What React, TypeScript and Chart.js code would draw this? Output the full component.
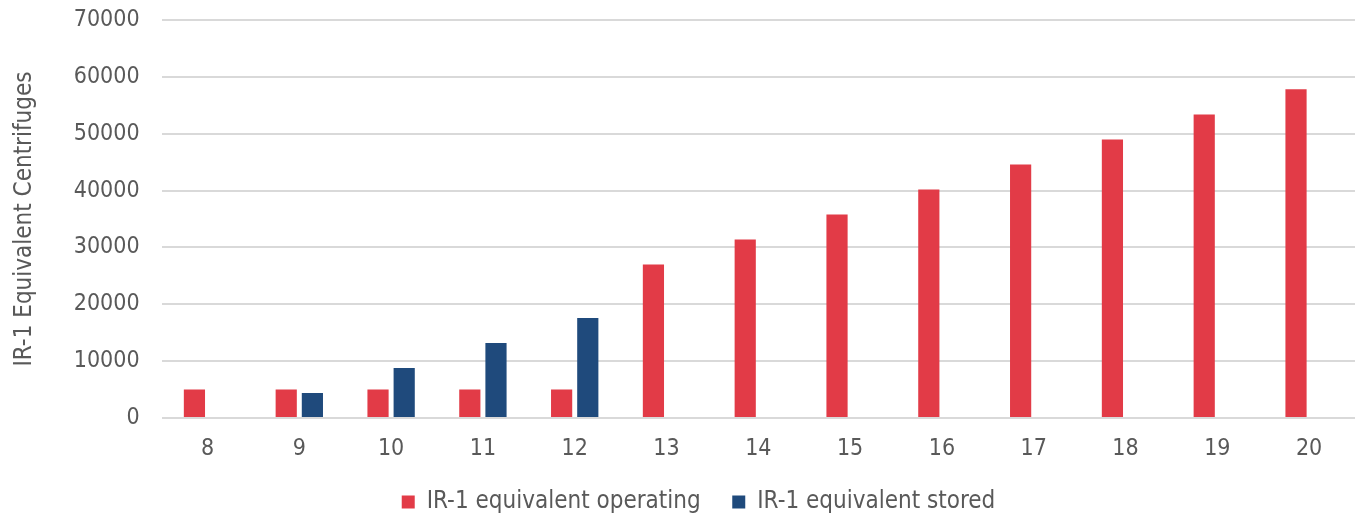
import React, { useEffect, useRef } from "react";
import { Chart, registerables } from "chart.js";

Chart.register(...registerables);

const categories = ["8", "9", "10", "11", "12", "13", "14", "15", "16", "17", "18", "19", "20"];
const operating = [5000, 5000, 5000, 5000, 5000, 27000, 31400, 35800, 40200, 44600, 49000, 53400, 57800];
const stored = [null, 4400, 8800, 13200, 17600, null, null, null, null, null, null, null, null];
const seriesNames = ["IR-1 equivalent operating", "IR-1 equivalent stored"];
const yTitle = "IR-1 Equivalent Centrifuges";

const FONT = "'DejaVu Sans Condensed', 'DejaVu Sans', sans-serif";
const SIZE = 23;

const legendShift = {
  id: "legendShift",
  afterLayout(chart: any) {
    const lg = chart.legend;
    if (lg) {
      lg.left += 18;
      lg.right += 18;
    }
  },
};

export default function App() {
  const ref = useRef<HTMLCanvasElement>(null);
  useEffect(() => {
    document.body.style.margin = "0";
    const chart = new Chart(ref.current!, {
      type: "bar",
      data: {
        labels: categories,
        datasets: [
          { label: seriesNames[0], data: operating, backgroundColor: "#E23B47" },
          { label: seriesNames[1], data: stored as any, backgroundColor: "#1F4A7C" },
        ],
      },
      plugins: [legendShift],
      options: {
        animation: false,
        responsive: false,
        maintainAspectRatio: false,
        layout: { padding: { top: 20, right: 1, left: 6, bottom: -9 } },
        datasets: { bar: { categoryPercentage: 0.57, barPercentage: 0.81 } },
        scales: {
          x: {
            grid: { display: false },
            border: { display: false },
            ticks: { color: "#595959", font: { family: FONT, size: SIZE }, padding: 9 },
            afterFit: (s: any) => {
              s.height = 62;
            },
          },
          y: {
            min: 0,
            max: 70000,
            ticks: {
              stepSize: 10000,
              color: "#595959",
              font: { family: FONT, size: SIZE },
              padding: 22,
              callback: (v: any) => String(v),
            },
            afterFit: (s: any) => {
              s.paddingTop = 0;
              s.paddingBottom = 0;
            },
            grid: { color: "#D9D9D9", lineWidth: 2, drawTicks: false },
            border: { display: false },
            title: { display: true, text: yTitle, color: "#595959", font: { family: FONT, size: 24 }, padding: { bottom: 13 } },
          },
        },
        plugins: {
          legend: {
            position: "bottom",
            labels: {
              color: "#595959",
              font: { family: FONT, size: 24 },
              boxWidth: 13,
              boxHeight: 13,
              padding: 10,
              generateLabels: (c: any) => {
                const items = Chart.defaults.plugins.legend.labels.generateLabels(c);
                return items.map((it: any, i: number) =>
                  i < items.length - 1 ? { ...it, text: it.text + "\u2003" } : it
                );
              },
            },
          },
          tooltip: { enabled: false },
        },
      },
    });
    return () => chart.destroy();
  }, []);
  return (
    <div style={{ width: 1356, height: 515 }}>
      <canvas ref={ref} width={1356} height={515} />
    </div>
  );
}
